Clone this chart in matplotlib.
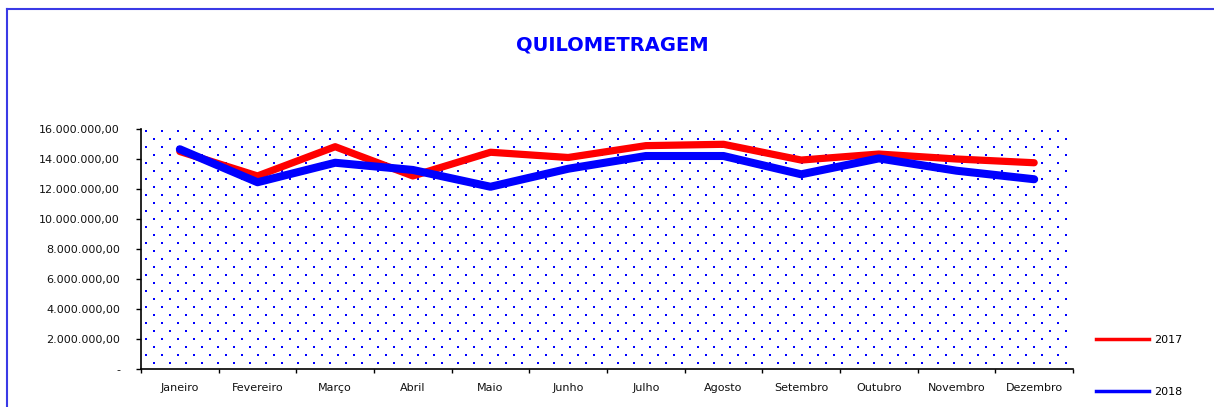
import numpy as np
import matplotlib
matplotlib.use('Agg')
import matplotlib.pyplot as plt
from matplotlib.ticker import FuncFormatter, FixedLocator
from matplotlib.lines import Line2D

# dados
meses = ['Janeiro', 'Fevereiro', 'Março', 'Abril', 'Maio', 'Junho',
         'Julho', 'Agosto', 'Setembro', 'Outubro', 'Novembro', 'Dezembro']
km_2017 = [14.50, 12.87, 14.82, 12.87, 14.45, 14.10,
           14.89, 14.98, 13.93, 14.33, 14.00, 13.75]
km_2018 = [14.65, 12.45, 13.75, 13.27, 12.15, 13.35,
           14.20, 14.20, 12.98, 14.04, 13.22, 12.65]
km_2017 = np.array(km_2017) * 1e6
km_2018 = np.array(km_2018) * 1e6

W, H = 1214, 407
fig = plt.figure(figsize=(W / 100, H / 100), dpi=100)

# moldura do grafico
borda = '#3a3ae6'
fig.add_artist(Line2D([7 / W, 7 / W], [0, 1 - 9 / H], color=borda, lw=1.5))
fig.add_artist(Line2D([7 / W, 1], [1 - 9 / H, 1 - 9 / H], color=borda, lw=1.5))

ax = fig.add_axes([141 / W, 1 - 369 / H, 932 / W, 240 / H])

# fundo pontilhado
dx, dy = 16 / 932, 8 / 240
pts = []
for j, yy in enumerate(np.arange(1 - 2 / 240, 0, -dy)):
    x0 = 5 / 932 if j % 2 == 0 else 5 / 932 + dx / 2
    for xx in np.arange(x0, 1, dx):
        pts.append((xx, yy))
pts = np.array(pts)
ax.plot(pts[:, 0], pts[:, 1], 's', ms=2.0, mew=0, color='#0000ff',
        antialiased=False, transform=ax.transAxes, zorder=0)

x = np.arange(len(meses))
ax.plot(x, km_2017, color='#ff0000', lw=5.2, solid_capstyle='round',
        solid_joinstyle='round', zorder=2)
ax.plot(x, km_2018, color='#0000ff', lw=5.8, solid_capstyle='round',
        solid_joinstyle='round', zorder=3)

ax.set_xlim(-0.5, len(meses) - 0.5)
ax.set_ylim(0, 16e6)
ax.set_yticks(np.arange(0, 16e6 + 1, 2e6))


def fmt(v, pos):
    if v == 0:
        return '-'
    s = f'{v:,.2f}'
    return s.replace(',', 'X').replace('.', ',').replace('X', '.')


ax.yaxis.set_major_formatter(FuncFormatter(fmt))
ax.xaxis.set_major_locator(FixedLocator(np.arange(-0.5, len(meses), 1)))
ax.xaxis.set_major_formatter(FuncFormatter(lambda v, p: ''))
ax.xaxis.set_minor_locator(FixedLocator(x))
ax.set_xticklabels(meses, minor=True)
ax.tick_params(axis='x', which='minor', length=0, pad=10, labelsize=8,
               labelcolor='#111111')
ax.tick_params(axis='x', which='major', length=3.2, width=1)
ax.tick_params(axis='y', length=3.6, width=1, pad=11.5, labelsize=8,
               labelcolor='#111111')

for s in ['top', 'right']:
    ax.spines[s].set_visible(False)
for s in ['left', 'bottom']:
    ax.spines[s].set_linewidth(1.2)

fig.text(612 / W, 1 - 45 / H, 'QUILOMETRAGEM', ha='center', va='center',
         fontsize=14, fontweight='bold', color='#0000ff')

handles = [Line2D([], [], color='#ff0000', lw=2.5),
           Line2D([], [], color='#0000ff', lw=2.5)]
fig.legend(handles, ['2017', '2018'], loc='center left',
           bbox_to_anchor=(1086 / W, 1 - 366 / H), frameon=False,
           fontsize=8, handlelength=4.8, labelspacing=3.8, handletextpad=0.4)

fig.savefig('out.png', dpi=100)
